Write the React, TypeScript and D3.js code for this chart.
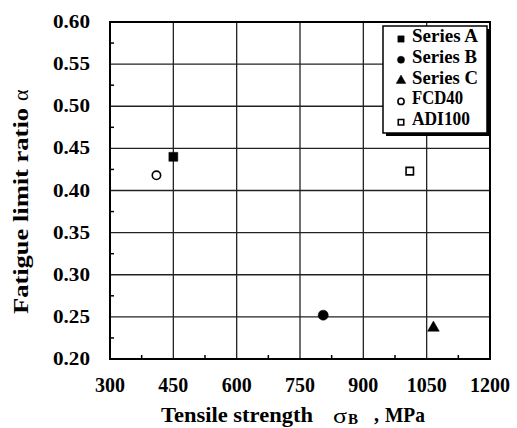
import React from "react";
import * as d3 from "d3";

const xTicks = [300, 450, 600, 750, 900, 1050, 1200];
const yTicks = [0.2, 0.25, 0.3, 0.35, 0.4, 0.45, 0.5, 0.55, 0.6];

const seriesNames = ["Series A", "Series B", "Series C", "FCD40", "ADI100"];
const seriesShapes = ["square", "circle", "triangle", "circle", "square"];
const seriesFilled = [true, true, true, false, false];
const strength = [450, 805, 1066, 410, 1010];
const fatigueRatio = [0.44, 0.252, 0.237, 0.418, 0.423];

// widths of the legend words as printed in the scan
const legendWidths = [66, 65, 66, 51, 58];

const W = 517;
const H = 428;
const left = 110, right = 490, top = 22, bottom = 359;
const font = "Liberation Serif, DejaVu Serif, serif";

function Marker({ shape, filled, x, y, size }: { shape: string; filled: boolean; x: number; y: number; size: number }) {
  const sym = shape === "square" ? d3.symbolSquare : shape === "triangle" ? d3.symbolTriangle : d3.symbolCircle;
  const path = d3.symbol().type(sym).size(size)() as string;
  return (
    <path
      d={path}
      transform={`translate(${x},${y})`}
      fill={filled ? "#000" : "#fff"}
      stroke="#000"
      strokeWidth={filled ? 0.5 : 1.6}
    />
  );
}

// digits in the scan are ~10px wide, the dot ~7px
const labelWidth = (s: string) => s.length * 10 - (s.includes(".") ? 3 : 0);

export default function App() {
  const x = d3.scaleLinear().domain([300, 1200]).range([left, right]);
  const y = d3.scaleLinear().domain([0.2, 0.6]).range([bottom, top]);

  const xMinor = d3.range(375, 1200, 150);
  const yMinor = d3.range(0.225, 0.6, 0.05);

  return (
    <svg width={W} height={H} style={{ position: "absolute", left: 0, top: 0, background: "#fff", fontFamily: font }}>
      {/* grid */}
      {xTicks.slice(1, -1).map((t) => (
        <line key={"gx" + t} x1={x(t)} x2={x(t)} y1={top} y2={bottom} stroke="#222" strokeWidth={1.3} />
      ))}
      {yTicks.slice(1, -1).map((t) => (
        <line key={"gy" + t} x1={left} x2={right} y1={y(t)} y2={y(t)} stroke="#222" strokeWidth={1.3} />
      ))}
      {/* minor ticks */}
      {xMinor.map((t) => (
        <line key={"mx" + t} x1={x(t)} x2={x(t)} y1={bottom} y2={bottom - 4} stroke="#000" strokeWidth={1.5} />
      ))}
      {yMinor.map((t) => (
        <line key={"my" + t} x1={left} x2={left + 4} y1={y(t)} y2={y(t)} stroke="#000" strokeWidth={1.5} />
      ))}
      <rect x={left} y={top} width={right - left} height={bottom - top} fill="none" stroke="#000" strokeWidth={2} />

      {/* tick labels */}
      {yTicks.map((t) => {
        const s = t.toFixed(2);
        const w = labelWidth(s);
        return (
          <text key={"ly" + t} x={90 - w} y={y(t) + 6} fontSize={19} fontWeight="bold" textLength={w} lengthAdjust="spacingAndGlyphs">
            {s}
          </text>
        );
      })}
      {xTicks.map((t) => {
        const s = String(t);
        const w = labelWidth(s);
        return (
          <text key={"lx" + t} x={x(t) - w / 2} y={392} fontSize={20} fontWeight="bold" textLength={w} lengthAdjust="spacingAndGlyphs">
            {s}
          </text>
        );
      })}

      {/* axis titles */}
      <text x={161} y={422} fontSize={21} fontWeight="bold" textLength={152} lengthAdjust="spacingAndGlyphs">
        Tensile strength
      </text>
      <text x={333} y={423} fontSize={22} textLength={14} lengthAdjust="spacingAndGlyphs">σ</text>
      <text x={348} y={424} fontSize={15} fontWeight="bold">B</text>
      <text x={374} y={421} fontSize={20} fontWeight="bold">,</text>
      <text x={385} y={422} fontSize={21} fontWeight="bold" textLength={40} lengthAdjust="spacingAndGlyphs">
        MPa
      </text>
      <g transform="translate(28,314) rotate(-90)">
        <text x={0} y={0} fontSize={21} fontWeight="bold" textLength={206} lengthAdjust="spacingAndGlyphs">
          Fatigue limit ratio
        </text>
        <text x={213} y={0} fontSize={22}>α</text>
      </g>

      {/* points */}
      {strength.map((s, i) => (
        <Marker
          key={"p" + i}
          shape={seriesShapes[i]}
          filled={seriesFilled[i]}
          x={x(s)}
          y={y(fatigueRatio[i])}
          size={seriesShapes[i] === "triangle" ? 60 : seriesFilled[i] ? 80 : 55}
        />
      ))}

      {/* legend */}
      <rect x={386} y={29} width={104} height={107} fill="#000" />
      <rect x={383} y={26} width={104} height={107} fill="#fff" stroke="#000" strokeWidth={1.5} />
      {seriesNames.map((n, i) => (
        <g key={"lg" + n}>
          <Marker shape={seriesShapes[i]} filled={seriesFilled[i]} x={401} y={39 + i * 20.8} size={seriesFilled[i] ? 40 : 30} />
          <text x={412} y={42 + i * 20.8} fontSize={18} fontWeight="bold" textLength={legendWidths[i]} lengthAdjust="spacingAndGlyphs">
            {n}
          </text>
        </g>
      ))}
    </svg>
  );
}
